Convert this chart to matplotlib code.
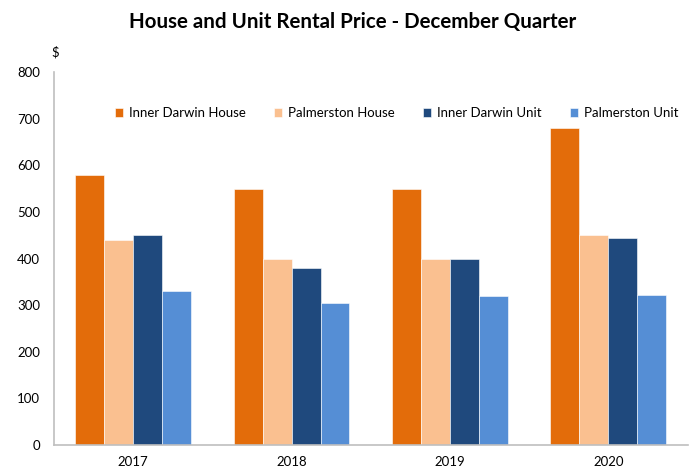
import matplotlib
matplotlib.use("Agg")
import matplotlib.pyplot as plt
import numpy as np

plt.rcParams['font.family'] = ['Lato', 'DejaVu Sans']

years = ["2017", "2018", "2019", "2020"]
series_names = ["Inner Darwin House", "Palmerston House", "Inner Darwin Unit", "Palmerston Unit"]
inner_darwin_house = [580, 550, 550, 680]
palmerston_house = [440, 400, 400, 450]
inner_darwin_unit = [450, 380, 400, 445]
palmerston_unit = [330, 305, 320, 322]
colors = ["#E36C0A", "#FAC090", "#1F497D", "#558ED5"]

data = [inner_darwin_house, palmerston_house, inner_darwin_unit, palmerston_unit]

fig = plt.figure(figsize=(6.91, 4.70), dpi=100)
ax = fig.add_axes([0.078, 0.053, 0.917, 0.794])

x = np.arange(len(years))
w = 0.183
for i, (vals, name, c) in enumerate(zip(data, series_names, colors)):
    ax.bar(x + (i - 1.5) * w, vals, width=w, color=c, label=name,
           edgecolor='white', linewidth=0.4)

ax.set_xlim(-0.5, 3.5)
ax.set_ylim(0, 800)
ax.set_yticks(range(0, 801, 100))
ax.set_xticks(x)
ax.set_xticklabels(years)
ax.tick_params(axis='both', length=0, labelsize=9.5, colors='#000000', pad=8)
ax.tick_params(axis='y', pad=10)
for s in ['top', 'right']:
    ax.spines[s].set_visible(False)
for s in ['left', 'bottom']:
    ax.spines[s].set_color('#BFBFBF')
    ax.spines[s].set_linewidth(1.2)

leg = ax.legend(loc='upper center', bbox_to_anchor=(0.541, 0.937), ncol=4, frameon=False,
                fontsize=9.5, handlelength=0.6, handleheight=0.6, handletextpad=0.4,
                columnspacing=2.2)

fig.text(0.511, 0.953, "House and Unit Rental Price - December Quarter", ha='center',
         va='center', fontsize=14.8, fontweight='bold')
fig.text(0.08, 0.888, "$", ha='center', va='center', fontsize=9.5)

fig.savefig("out.png", dpi=100)
